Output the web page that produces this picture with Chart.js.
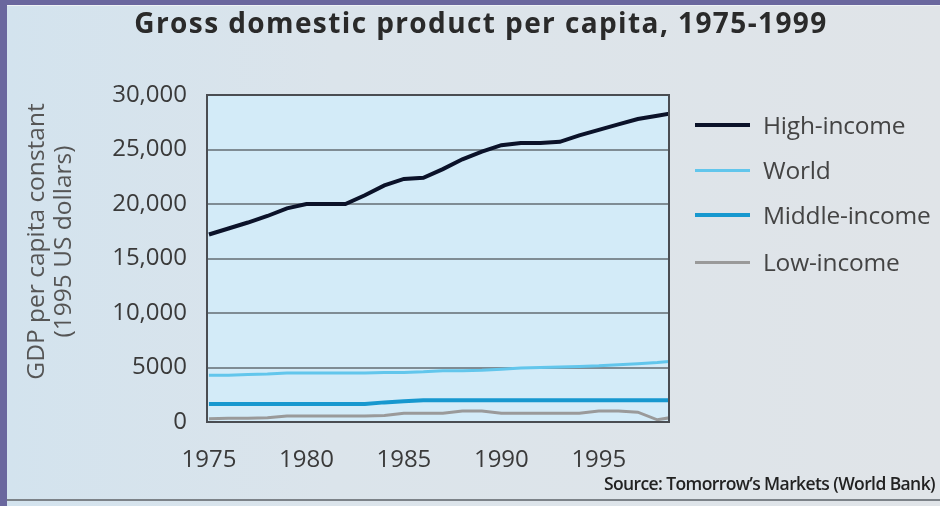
<!DOCTYPE html>
<html>
<head>
<meta charset="utf-8">
<script src="https://cdn.jsdelivr.net/npm/chart.js@4.4.1/dist/chart.umd.min.js"></script>
<style>
html,body{margin:0;padding:0;width:940px;height:506px;overflow:hidden;background:#6a679e;font-family:'Open Sans',sans-serif;}
#frame{position:absolute;left:7px;top:5px;width:933px;height:501px;background:linear-gradient(90deg,#d3e3ee 0%,#dbe4eb 35%,#e0e4e8 100%);border-top:1px solid #eef2f5;box-sizing:border-box;}
#bottomline{position:absolute;left:7px;top:499px;width:933px;height:2px;background:#7c8288;}
canvas{position:absolute;left:0;top:0;}
#title{position:absolute;left:0;top:6px;width:962px;text-align:center;font-weight:700;font-size:28px;line-height:32px;letter-spacing:1.4px;color:#2a2a2a;white-space:nowrap;}
#legend{position:absolute;left:695px;top:0;}
.item{position:absolute;left:0;height:30px;display:flex;align-items:center;white-space:nowrap;}
.swatch{width:55px;margin-right:13px;}
.label{font-size:24.5px;color:#444;line-height:30px;letter-spacing:-0.2px;}
#source{position:absolute;right:5px;top:471px;font-size:17.5px;font-weight:600;line-height:24px;color:#222;letter-spacing:-0.6px;white-space:nowrap;}
</style>
</head>
<body>
<div id="frame"></div>
<div id="bottomline"></div>
<canvas id="c" width="940" height="506"></canvas>
<div id="title">Gross domestic product per capita, 1975-1999</div>
<div id="legend"></div>
<div id="source">Source: Tomorrow’s Markets (World Bank)</div>
<script>
const years = [1975,1976,1977,1978,1979,1980,1981,1982,1983,1984,1985,1986,1987,1988,1989,1990,1991,1992,1993,1994,1995,1996,1997,1998,1999];
const highIncome = [17200,17750,18300,18900,19600,20000,20000,20000,20800,21700,22300,22400,23200,24100,24800,25400,25600,25600,25700,26300,26800,27300,27800,28100,28400];
const world = [4300,4300,4350,4400,4500,4500,4500,4500,4500,4550,4550,4600,4700,4700,4750,4850,4950,5000,5050,5100,5150,5250,5350,5450,5600];
const middleIncome = [1650,1650,1650,1650,1650,1650,1650,1650,1650,1800,1900,2000,2000,2000,2000,2000,2000,2000,2000,2000,2000,2000,2000,2000,2000];
const lowIncome = [300,350,350,400,550,550,550,550,550,600,800,800,800,1000,1000,800,800,800,800,800,1000,1000,900,200,500];
const seriesNames = ['High-income','World','Middle-income','Low-income'];
const xTickYears = [1975,1980,1985,1990,1995];
const yTickValues = [0,5000,10000,15000,20000,25000,30000];
const yTickLabels = ['0','5000','10,000','15,000','20,000','25,000','30,000'];
const yAxisTitle = ['GDP per capita constant','(1995 US dollars)'];

const colors = ['#0b1229','#62c6ec','#1798cf','#9a9a9a'];
const widths = [4,3,4,3];
const seriesValues = [highIncome, world, middleIncome, lowIncome];

const frame = {
  id:'plotFrame',
  afterLayout(chart){
    const ys = chart.scales.y;
    if (!ys._shiftedTitle) {
      const orig = ys.drawTitle;
      ys.drawTitle = function(){
        const ctx = this.ctx;
        ctx.save();
        ctx.translate(0,-17);
        orig.apply(this, arguments);
        ctx.restore();
      };
      ys._shiftedTitle = true;
    }
  },
  beforeDraw(chart){
    const a = chart.chartArea, ctx = chart.ctx;
    ctx.save();
    ctx.fillStyle = '#d3ebf8';
    ctx.fillRect(a.left, a.top, a.right-a.left, a.bottom-a.top);
    ctx.restore();
  },
  afterDraw(chart){
    const a = chart.chartArea, ctx = chart.ctx;
    ctx.save();
    ctx.strokeStyle = '#4a4d52';
    ctx.lineWidth = 2;
    ctx.strokeRect(a.left, a.top, a.right-a.left, a.bottom-a.top);
    ctx.restore();
  }
};

const datasets = seriesNames.map((name,i)=>({
  label: name,
  data: years.map((yr,j)=>({x:yr, y:seriesValues[i][j]})),
  borderColor: colors[i],
  backgroundColor: colors[i],
  borderWidth: widths[i],
  pointRadius: 0,
  tension: 0,
  fill: false
}));

const chart = new Chart(document.getElementById('c'), {
  type:'line',
  data:{datasets},
  options:{
    responsive:false,
    animation:false,
    devicePixelRatio:1,
    layout:{padding:{left:8, top:95, right:271, bottom:0}},
    plugins:{legend:{display:false}, tooltip:{enabled:false}, title:{display:false}},
    scales:{
      x:{
        type:'linear', min:1974.9, max:1998.6,
        grid:{display:false, drawTicks:false},
        border:{display:false},
        afterBuildTicks(s){ s.ticks = xTickYears.map(v=>({value:v})); },
        afterFit(s){ s.height = 84; },
        ticks:{padding:24, color:'#3a3a3a', font:{family:'Open Sans', size:24}, maxRotation:0, autoSkip:false,
          callback:(v)=>String(v)}
      },
      y:{
        min:0, max:30000,
        grid:{color:'#7f8c94', lineWidth:2, drawTicks:false},
        border:{display:false},
        afterBuildTicks(s){ s.ticks = yTickValues.map(v=>({value:v})); },
        afterFit(s){ s.width = 199; },
        ticks:{padding:20, color:'#3a3a3a', font:{family:'Open Sans', size:24},
          callback:(v)=>yTickLabels[yTickValues.indexOf(v)]},
        title:{display:true, text:yAxisTitle, color:'#555', font:{family:'Open Sans', size:24.5, lineHeight:1.08}, padding:{top:16, bottom:0}}
      }
    }
  },
  plugins:[frame]
});

// HTML legend built from the chart datasets
const legendTops = [110,155,200,247];
const leg = document.getElementById('legend');
chart.data.datasets.forEach((ds,i)=>{
  const item = document.createElement('div');
  item.className='item';
  item.style.top = legendTops[i]+'px';
  const sw = document.createElement('div');
  sw.className='swatch';
  sw.style.height = ds.borderWidth+'px';
  sw.style.background = ds.borderColor;
  const lb = document.createElement('span');
  lb.className='label';
  lb.textContent = ds.label;
  item.appendChild(sw); item.appendChild(lb);
  leg.appendChild(item);
});
</script>
</body>
</html>
